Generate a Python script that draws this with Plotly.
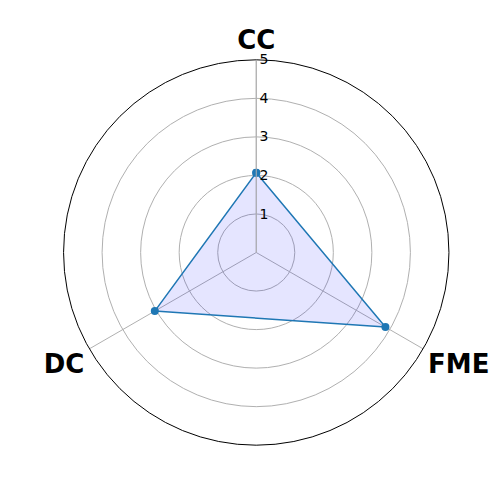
import plotly.graph_objects as go

categories = ["CC", "FME", "DC"]
values = [2.07, 3.87, 3.04]
radial_ticks = [1, 2, 3, 4, 5]

theta = categories + [categories[0]]
r = values + [values[0]]

fig = go.Figure()
fig.add_trace(go.Scatterpolar(
    r=r, theta=theta, mode="lines+markers",
    fill="toself", fillcolor="rgba(0,0,255,0.1)",
    line=dict(color="#1f77b4", width=1.5),
    marker=dict(color="#1f77b4", size=8),
    showlegend=False,
))

fig.update_layout(
    width=500, height=500,
    margin=dict(l=0, r=0, t=0, b=0),
    paper_bgcolor="white",
    polar=dict(
        domain=dict(x=[0.111, 0.882], y=[0.1256, 0.8964]),
        bgcolor="white",
        angularaxis=dict(
            direction="clockwise", rotation=90,
            categoryorder="array", categoryarray=categories,
            showline=True, linecolor="black", linewidth=1,
            showgrid=True, gridcolor="#b0b0b0", gridwidth=1,
            ticks="",
            tickfont=dict(family="DejaVu Sans", size=26, color="black", weight="bold"),
        ),
        radialaxis=dict(
            range=[0, 5], tickvals=radial_ticks,
            ticktext=[str(v) for v in radial_ticks],
            angle=90, tickangle=90, side="clockwise",
            showline=True, linecolor="#b0b0b0", linewidth=1,
            showgrid=True, gridcolor="#b0b0b0", gridwidth=1,
            ticks="",
            tickfont=dict(family="DejaVu Sans", size=14, color="black"),
        ),
    ),
)

fig.write_html("out.html")
